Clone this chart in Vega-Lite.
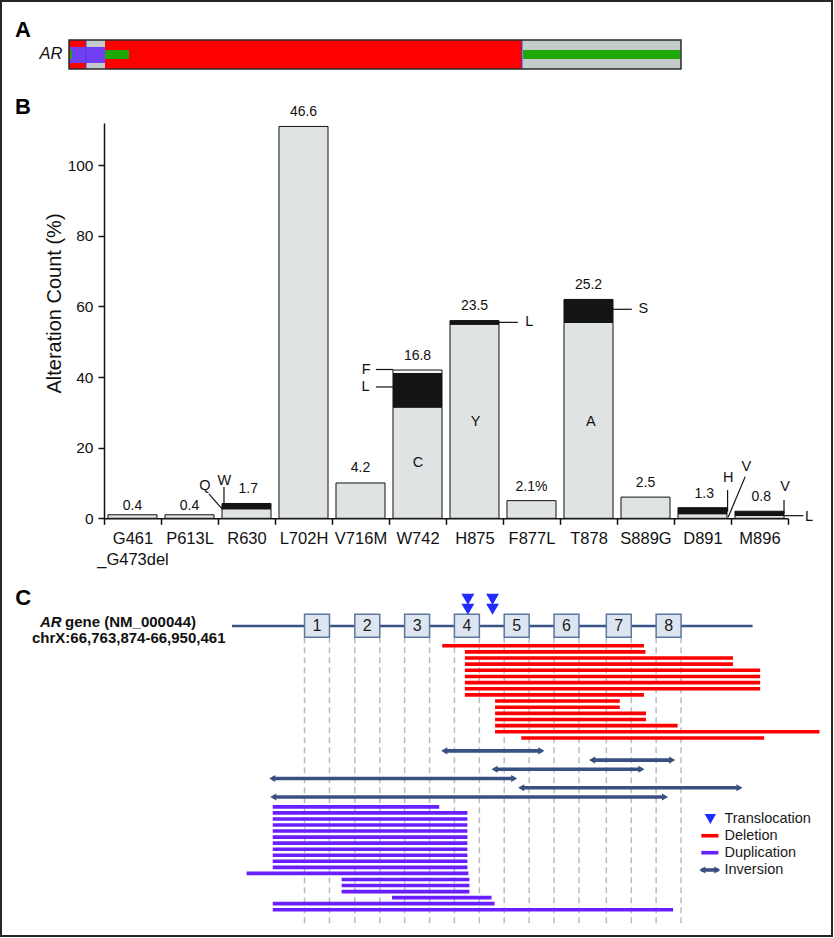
{
  "$schema": "https://vega.github.io/schema/vega-lite/v6.json",
  "width": 831,
  "height": 935,
  "autosize": {"type": "none"},
  "padding": {"left": 1, "top": 1, "right": 2, "bottom": 2},
  "background": "#ffffff",
  "config": {
    "view": {"stroke": "#262626", "strokeWidth": 2},
    "font": "Liberation Sans"
  },
  "datasets": {
    "ar_track": [
      {"alteration": "Amplification", "start": 0, "end": 17},
      {"alteration": "No alteration", "start": 17, "end": 36},
      {"alteration": "Amplification", "start": 36, "end": 453},
      {"alteration": "No alteration", "start": 453, "end": 612},
      {"alteration": "Structural variant", "start": 1, "end": 36},
      {"alteration": "Missense mutation", "start": 1, "end": 3},
      {"alteration": "Missense mutation", "start": 36, "end": 60},
      {"alteration": "Missense mutation", "start": 454, "end": 611}
    ],
    "mut_counts": [
      {"mutation": "G461_G473del", "residue": "", "part": "primary", "lo": 0, "hi": 1},
      {"mutation": "P613L", "residue": "", "part": "primary", "lo": 0, "hi": 1},
      {"mutation": "R630", "residue": "Q", "part": "primary", "lo": 0, "hi": 2.7},
      {"mutation": "R630", "residue": "W", "part": "secondary", "lo": 2.7, "hi": 4.2},
      {"mutation": "L702H", "residue": "", "part": "primary", "lo": 0, "hi": 111},
      {"mutation": "V716M", "residue": "", "part": "primary", "lo": 0, "hi": 10},
      {"mutation": "W742", "residue": "C", "part": "primary", "lo": 0, "hi": 31.5},
      {"mutation": "W742", "residue": "L", "part": "secondary", "lo": 31.5, "hi": 41},
      {"mutation": "W742", "residue": "F", "part": "tertiary", "lo": 41, "hi": 42},
      {"mutation": "H875", "residue": "Y", "part": "primary", "lo": 0, "hi": 55},
      {"mutation": "H875", "residue": "L", "part": "secondary", "lo": 55, "hi": 56},
      {"mutation": "F877L", "residue": "", "part": "primary", "lo": 0, "hi": 5},
      {"mutation": "T878", "residue": "A", "part": "primary", "lo": 0, "hi": 55.5},
      {"mutation": "T878", "residue": "S", "part": "secondary", "lo": 55.5, "hi": 62},
      {"mutation": "S889G", "residue": "", "part": "primary", "lo": 0, "hi": 6},
      {"mutation": "D891", "residue": "V", "part": "primary", "lo": 0, "hi": 1.3},
      {"mutation": "D891", "residue": "H", "part": "secondary", "lo": 1.3, "hi": 3},
      {"mutation": "M896", "residue": "L", "part": "primary", "lo": 0, "hi": 0.8},
      {"mutation": "M896", "residue": "V", "part": "secondary", "lo": 0.8, "hi": 2}
    ],
    "value_labels": [
      {"text": "0.4", "u": 0.5, "v": 3.5},
      {"text": "0.4", "u": 1.5, "v": 3.5},
      {"text": "1.7", "u": 2.53, "v": 8.2},
      {"text": "46.6", "u": 3.5, "v": 115.1},
      {"text": "4.2", "u": 4.5, "v": 14.2},
      {"text": "16.8", "u": 5.5, "v": 46},
      {"text": "23.5", "u": 6.5, "v": 60.1},
      {"text": "2.1%", "u": 7.5, "v": 8.8},
      {"text": "25.2", "u": 8.5, "v": 66.1},
      {"text": "2.5", "u": 9.5, "v": 10.1},
      {"text": "1.3", "u": 10.53, "v": 6.9},
      {"text": "0.8", "u": 11.53, "v": 5.9}
    ],
    "residue_labels": [
      {"text": "Q", "u": 1.77, "v": 9.15},
      {"text": "W", "u": 2.11, "v": 10.6},
      {"text": "F", "u": 4.6, "v": 42},
      {"text": "L", "u": 4.59, "v": 37.1},
      {"text": "C", "u": 5.51, "v": 15.7},
      {"text": "Y", "u": 6.52, "v": 27.4},
      {"text": "L", "u": 7.46, "v": 55.6},
      {"text": "A", "u": 8.54, "v": 27.4},
      {"text": "S", "u": 9.46, "v": 59.2},
      {"text": "H", "u": 10.95, "v": 11.5},
      {"text": "V", "u": 11.27, "v": 14.4},
      {"text": "V", "u": 11.95, "v": 8.8},
      {"text": "L", "u": 12.37, "v": 0.45}
    ],
    "leaders": [
      {"residue": "Q", "u1": 1.84, "v1": 6.9, "u2": 2.08, "v2": 2.55},
      {"residue": "W", "u1": 2.105, "v1": 8.9, "u2": 2.105, "v2": 4.05},
      {"residue": "F", "u1": 4.77, "v1": 42.15, "u2": 5.07, "v2": 42.15},
      {"residue": "L", "u1": 4.77, "v1": 37.2, "u2": 5.07, "v2": 37.2},
      {"residue": "L", "u1": 6.93, "v1": 55.5, "u2": 7.26, "v2": 55.5},
      {"residue": "S", "u1": 8.93, "v1": 59.2, "u2": 9.26, "v2": 59.2},
      {"residue": "H", "u1": 10.94, "v1": 8.0, "u2": 10.94, "v2": 1.9},
      {"residue": "V", "u1": 11.25, "v1": 11.8, "u2": 10.95, "v2": 0.3},
      {"residue": "V", "u1": 11.93, "v1": 5.2, "u2": 11.93, "v2": 1.4},
      {"residue": "L", "u1": 11.93, "v1": 0.74, "u2": 12.27, "v2": 0.74}
    ],
    "exons": [
      {"exon": "1", "start": 0.752, "end": 1.248, "mid": 1.0},
      {"exon": "2", "start": 1.752, "end": 2.248, "mid": 2.0},
      {"exon": "3", "start": 2.742, "end": 3.238, "mid": 2.99},
      {"exon": "4", "start": 3.732, "end": 4.228, "mid": 3.98},
      {"exon": "5", "start": 4.722, "end": 5.218, "mid": 4.97},
      {"exon": "6", "start": 5.712, "end": 6.208, "mid": 5.96},
      {"exon": "7", "start": 6.752, "end": 7.248, "mid": 7.0},
      {"exon": "8", "start": 7.742, "end": 8.238, "mid": 7.99}
    ],
    "gene": [{"gene": "AR", "start": -0.69, "end": 9.66, "track": -3.22}],
    "translocations": [
      {"event": "T1", "pos": 4.0, "track": -7.54},
      {"event": "T2", "pos": 4.0, "track": -5.92},
      {"event": "T3", "pos": 4.49, "track": -7.54},
      {"event": "T4", "pos": 4.49, "track": -5.92}
    ],
    "sv": [
      {"type": "Deletion", "start": 3.49, "end": 7.5, "track": 0},
      {"type": "Deletion", "start": 3.94, "end": 7.53, "track": 1},
      {"type": "Deletion", "start": 3.94, "end": 9.27, "track": 2},
      {"type": "Deletion", "start": 3.94, "end": 9.27, "track": 3},
      {"type": "Deletion", "start": 3.94, "end": 9.81, "track": 4},
      {"type": "Deletion", "start": 3.94, "end": 9.81, "track": 5},
      {"type": "Deletion", "start": 3.94, "end": 9.81, "track": 6},
      {"type": "Deletion", "start": 3.94, "end": 9.81, "track": 7},
      {"type": "Deletion", "start": 3.94, "end": 7.5, "track": 8},
      {"type": "Deletion", "start": 4.54, "end": 7.02, "track": 9},
      {"type": "Deletion", "start": 4.54, "end": 7.02, "track": 10},
      {"type": "Deletion", "start": 4.54, "end": 7.54, "track": 11},
      {"type": "Deletion", "start": 4.54, "end": 7.54, "track": 12},
      {"type": "Deletion", "start": 4.54, "end": 8.17, "track": 13},
      {"type": "Deletion", "start": 4.54, "end": 10.99, "track": 14},
      {"type": "Deletion", "start": 5.06, "end": 9.89, "track": 15},
      {"type": "Inversion", "start": 3.53, "end": 5.46, "track": 17.1},
      {"type": "Inversion", "start": 6.47, "end": 8.06, "track": 18.6},
      {"type": "Inversion", "start": 4.53, "end": 7.45, "track": 20.1},
      {"type": "Inversion", "start": 0.11, "end": 4.92, "track": 21.6},
      {"type": "Inversion", "start": 5.06, "end": 9.4, "track": 23.1},
      {"type": "Inversion", "start": 0.13, "end": 7.92, "track": 24.6},
      {"type": "Duplication", "start": 0.12, "end": 3.43, "track": 26.2},
      {"type": "Duplication", "start": 0.12, "end": 3.99, "track": 27.18},
      {"type": "Duplication", "start": 0.12, "end": 3.99, "track": 28.17},
      {"type": "Duplication", "start": 0.12, "end": 3.99, "track": 29.15},
      {"type": "Duplication", "start": 0.12, "end": 3.99, "track": 30.14},
      {"type": "Duplication", "start": 0.12, "end": 3.99, "track": 31.12},
      {"type": "Duplication", "start": 0.12, "end": 3.99, "track": 32.1},
      {"type": "Duplication", "start": 0.12, "end": 3.99, "track": 33.09},
      {"type": "Duplication", "start": 0.12, "end": 3.99, "track": 34.07},
      {"type": "Duplication", "start": 0.12, "end": 3.99, "track": 35.06},
      {"type": "Duplication", "start": 0.12, "end": 3.99, "track": 36.04},
      {"type": "Duplication", "start": -0.4, "end": 4.01, "track": 37.02},
      {"type": "Duplication", "start": 1.49, "end": 4.03, "track": 38.01},
      {"type": "Duplication", "start": 1.49, "end": 4.03, "track": 38.99},
      {"type": "Duplication", "start": 1.49, "end": 4.03, "track": 39.98},
      {"type": "Duplication", "start": 2.49, "end": 4.47, "track": 40.96},
      {"type": "Duplication", "start": 0.12, "end": 4.53, "track": 41.94},
      {"type": "Duplication", "start": 0.12, "end": 8.08, "track": 42.93}
    ],
    "legend_items": [
      {"type": "Translocation", "track": 28.18},
      {"type": "Deletion", "track": 30.9},
      {"type": "Duplication", "track": 33.66},
      {"type": "Inversion", "track": 36.47}
    ]
  },
  "resolve": {
    "scale": {"x": "independent", "y": "independent", "color": "independent", "shape": "independent", "strokeWidth": "independent"},
    "axis": {"x": "independent", "y": "independent"}
  },
  "layer": [
    {
      "data": {"name": "ar_track"},
      "transform": [{"filter": "datum.alteration == 'Amplification' || datum.alteration == 'No alteration'"}],
      "mark": {"type": "rect"},
      "encoding": {
        "x": {"field": "start", "type": "quantitative", "scale": {"type": "linear", "domain": [0, 612], "range": [68, 680], "nice": false, "zero": false}, "axis": null},
        "x2": {"field": "end"},
        "y": {"datum": 0, "type": "quantitative", "scale": {"type": "linear", "domain": [0, 1], "range": [68, 39], "nice": false, "zero": false}, "axis": null},
        "y2": {"datum": 1},
        "color": {"field": "alteration", "type": "nominal", "scale": {"domain": ["Amplification", "No alteration", "Structural variant", "Missense mutation"], "range": ["#ff0000", "#c3cbcb", "#7040f0", "#1ea808"]}, "legend": null}
      }
    },
    {
      "data": {"name": "ar_track"},
      "transform": [{"filter": "datum.alteration == 'Structural variant'"}],
      "mark": {"type": "rect"},
      "encoding": {
        "x": {"field": "start", "type": "quantitative", "scale": {"type": "linear", "domain": [0, 612], "range": [68, 680], "nice": false, "zero": false}, "axis": null},
        "x2": {"field": "end"},
        "y": {"datum": 0.21, "type": "quantitative", "scale": {"type": "linear", "domain": [0, 1], "range": [68, 39], "nice": false, "zero": false}, "axis": null},
        "y2": {"datum": 0.76},
        "color": {"field": "alteration", "type": "nominal", "scale": {"domain": ["Amplification", "No alteration", "Structural variant", "Missense mutation"], "range": ["#ff0000", "#c3cbcb", "#7040f0", "#1ea808"]}, "legend": null}
      }
    },
    {
      "data": {"name": "ar_track"},
      "transform": [{"filter": "datum.alteration == 'Missense mutation'"}],
      "mark": {"type": "rect"},
      "encoding": {
        "x": {"field": "start", "type": "quantitative", "scale": {"type": "linear", "domain": [0, 612], "range": [68, 680], "nice": false, "zero": false}, "axis": null},
        "x2": {"field": "end"},
        "y": {"datum": 0.345, "type": "quantitative", "scale": {"type": "linear", "domain": [0, 1], "range": [68, 39], "nice": false, "zero": false}, "axis": null},
        "y2": {"datum": 0.655},
        "color": {"field": "alteration", "type": "nominal", "scale": {"domain": ["Amplification", "No alteration", "Structural variant", "Missense mutation"], "range": ["#ff0000", "#c3cbcb", "#7040f0", "#1ea808"]}, "legend": null}
      }
    },
    {
      "data": {"values": [{"edge": 17}, {"edge": 453}]},
      "mark": {"type": "rule", "color": "#3a3aff", "strokeWidth": 1},
      "encoding": {
        "x": {"field": "edge", "type": "quantitative", "scale": {"type": "linear", "domain": [0, 612], "range": [68, 680], "nice": false, "zero": false}, "axis": null},
        "y": {"datum": 0, "type": "quantitative", "scale": {"type": "linear", "domain": [0, 1], "range": [68, 39], "nice": false, "zero": false}, "axis": null},
        "y2": {"datum": 1}
      }
    },
    {
      "data": {"values": [{"gene": "AR", "start": 0, "end": 612}]},
      "mark": {"type": "rect", "filled": false, "color": "#2a2a2a", "strokeWidth": 1.5},
      "encoding": {
        "x": {"field": "start", "type": "quantitative", "scale": {"type": "linear", "domain": [0, 612], "range": [68, 680], "nice": false, "zero": false}, "axis": null},
        "x2": {"field": "end"},
        "y": {"datum": 0, "type": "quantitative", "scale": {"type": "linear", "domain": [0, 1], "range": [68, 39], "nice": false, "zero": false}, "axis": null},
        "y2": {"datum": 1}
      }
    },
    {
      "data": {"values": [{"label": "A", "s": -54, "v": 1.114}]},
      "mark": {"type": "text", "fontSize": 22, "fontWeight": "bold", "align": "left", "baseline": "alphabetic", "color": "#000"},
      "encoding": {
        "x": {"field": "s", "type": "quantitative", "scale": {"type": "linear", "domain": [0, 612], "range": [68, 680], "nice": false, "zero": false}, "axis": null},
        "y": {"field": "v", "type": "quantitative", "scale": {"type": "linear", "domain": [0, 1], "range": [68, 39], "nice": false, "zero": false}, "axis": null},
        "text": {"field": "label"}
      }
    },
    {
      "data": {"values": [{"label": "AR", "s": -6.7, "v": 0.517}]},
      "mark": {"type": "text", "fontSize": 16.5, "fontStyle": "italic", "align": "right", "baseline": "middle", "color": "#111"},
      "encoding": {
        "x": {"field": "s", "type": "quantitative", "scale": {"type": "linear", "domain": [0, 612], "range": [68, 680], "nice": false, "zero": false}, "axis": null},
        "y": {"field": "v", "type": "quantitative", "scale": {"type": "linear", "domain": [0, 1], "range": [68, 39], "nice": false, "zero": false}, "axis": null},
        "text": {"field": "label"}
      }
    },
    {
      "data": {"name": "mut_counts"},
      "mark": {"type": "bar", "width": {"band": 0.86}, "stroke": "#111", "strokeWidth": 1},
      "encoding": {
        "x": {
          "field": "mutation", "type": "nominal", "sort": null,
          "scale": {"type": "band", "domain": ["G461_G473del", "P613L", "R630", "L702H", "V716M", "W742", "H875", "F877L", "T878", "S889G", "D891", "M896"], "range": [103, 787], "paddingInner": 0, "paddingOuter": 0},
          "axis": {"orient": "bottom", "offset": -417.7, "title": null, "domainColor": "#111", "domainWidth": 1.5, "tickColor": "#111", "tickWidth": 1.5, "tickSize": 6, "tickBand": "extent", "labelAngle": 0, "labelFontSize": 16.5, "labelColor": "#111", "labelPadding": 6, "labelLineHeight": 21.5, "labelExpr": "datum.label == 'G461_G473del' ? ['G461', '_G473del'] : datum.label", "grid": false}
        },
        "y": {
          "field": "lo", "type": "quantitative",
          "scale": {"type": "linear", "domain": [0, 112], "range": [517.3, 121.9], "nice": false, "zero": false},
          "axis": {"orient": "left", "offset": -103, "values": [0, 20, 40, 60, 80, 100], "title": "Alteration Count (%)", "titleFontSize": 20, "titleFontWeight": "normal", "titleColor": "#111", "titleX": -50, "titleY": 302, "titleBaseline": "middle", "titleAngle": 270, "labelFontSize": 15.5, "labelColor": "#111", "labelPadding": 5, "tickSize": 6, "tickColor": "#111", "tickWidth": 1.5, "domainColor": "#111", "domainWidth": 1.5, "grid": false}
        },
        "y2": {"field": "hi"},
        "color": {"field": "part", "type": "nominal", "scale": {"domain": ["primary", "secondary", "tertiary"], "range": ["#dfe3e3", "#141414", "#f7f7f7"]}, "legend": null}
      }
    },
    {
      "data": {"name": "leaders"},
      "mark": {"type": "rule", "color": "#111", "strokeWidth": 1.2},
      "encoding": {
        "x": {"field": "u1", "type": "quantitative", "scale": {"type": "linear", "domain": [0, 12], "range": [103, 787], "nice": false, "zero": false}, "axis": null},
        "x2": {"field": "u2"},
        "y": {"field": "v1", "type": "quantitative", "scale": {"type": "linear", "domain": [0, 112], "range": [517.3, 121.9], "nice": false, "zero": false}, "axis": null},
        "y2": {"field": "v2"}
      }
    },
    {
      "data": {"name": "value_labels"},
      "mark": {"type": "text", "fontSize": 14, "align": "center", "baseline": "middle", "color": "#111"},
      "encoding": {
        "x": {"field": "u", "type": "quantitative", "scale": {"type": "linear", "domain": [0, 12], "range": [103, 787], "nice": false, "zero": false}, "axis": null},
        "y": {"field": "v", "type": "quantitative", "scale": {"type": "linear", "domain": [0, 112], "range": [517.3, 121.9], "nice": false, "zero": false}, "axis": null},
        "text": {"field": "text"}
      }
    },
    {
      "data": {"name": "residue_labels"},
      "mark": {"type": "text", "fontSize": 14.5, "align": "center", "baseline": "middle", "color": "#111"},
      "encoding": {
        "x": {"field": "u", "type": "quantitative", "scale": {"type": "linear", "domain": [0, 12], "range": [103, 787], "nice": false, "zero": false}, "axis": null},
        "y": {"field": "v", "type": "quantitative", "scale": {"type": "linear", "domain": [0, 112], "range": [517.3, 121.9], "nice": false, "zero": false}, "axis": null},
        "text": {"field": "text"}
      }
    },
    {
      "data": {"values": [{"label": "B", "u": -1.561, "v": 114.4}]},
      "mark": {"type": "text", "fontSize": 22, "fontWeight": "bold", "align": "left", "baseline": "alphabetic", "color": "#000"},
      "encoding": {
        "x": {"field": "u", "type": "quantitative", "scale": {"type": "linear", "domain": [0, 12], "range": [103, 787], "nice": false, "zero": false}, "axis": null},
        "y": {"field": "v", "type": "quantitative", "scale": {"type": "linear", "domain": [0, 112], "range": [517.3, 121.9], "nice": false, "zero": false}, "axis": null},
        "text": {"field": "label"}
      }
    },
    {
      "data": {"name": "exons"},
      "transform": [{"fold": ["start", "end"], "as": ["side", "edge"]}],
      "mark": {"type": "rule", "color": "#b4bebe", "strokeWidth": 1.5, "strokeDash": [6, 4]},
      "encoding": {
        "x": {"field": "edge", "type": "quantitative", "scale": {"type": "linear", "domain": [0, 10], "range": [265.7, 768.7], "nice": false, "zero": false}, "axis": null},
        "y": {"datum": -1.37, "type": "quantitative", "scale": {"type": "linear", "domain": [-8, 46], "range": [595.5, 927.6], "nice": false, "zero": false}, "axis": null},
        "y2": {"datum": 45.4}
      }
    },
    {
      "data": {"name": "gene"},
      "mark": {"type": "rule", "color": "#3b5487", "strokeWidth": 2.5},
      "encoding": {
        "x": {"field": "start", "type": "quantitative", "scale": {"type": "linear", "domain": [0, 10], "range": [265.7, 768.7], "nice": false, "zero": false}, "axis": null},
        "x2": {"field": "end"},
        "y": {"field": "track", "type": "quantitative", "scale": {"type": "linear", "domain": [-8, 46], "range": [595.5, 927.6], "nice": false, "zero": false}, "axis": null}
      }
    },
    {
      "data": {"name": "exons"},
      "mark": {"type": "rect", "fill": "#dde6f0", "stroke": "#5c76a0", "strokeWidth": 1.5},
      "encoding": {
        "x": {"field": "start", "type": "quantitative", "scale": {"type": "linear", "domain": [0, 10], "range": [265.7, 768.7], "nice": false, "zero": false}, "axis": null},
        "x2": {"field": "end"},
        "y": {"datum": -5.11, "type": "quantitative", "scale": {"type": "linear", "domain": [-8, 46], "range": [595.5, 927.6], "nice": false, "zero": false}, "axis": null},
        "y2": {"datum": -1.37}
      }
    },
    {
      "data": {"name": "exons"},
      "mark": {"type": "text", "fontSize": 16, "align": "center", "baseline": "middle", "color": "#1a1a1a"},
      "encoding": {
        "x": {"field": "mid", "type": "quantitative", "scale": {"type": "linear", "domain": [0, 10], "range": [265.7, 768.7], "nice": false, "zero": false}, "axis": null},
        "y": {"datum": -3.24, "type": "quantitative", "scale": {"type": "linear", "domain": [-8, 46], "range": [595.5, 927.6], "nice": false, "zero": false}, "axis": null},
        "text": {"field": "exon"}
      }
    },
    {
      "data": {"name": "translocations"},
      "mark": {"type": "point", "shape": "triangle-down", "filled": true, "size": 165, "color": "#1f2cff", "opacity": 1},
      "encoding": {
        "x": {"field": "pos", "type": "quantitative", "scale": {"type": "linear", "domain": [0, 10], "range": [265.7, 768.7], "nice": false, "zero": false}, "axis": null},
        "y": {"field": "track", "type": "quantitative", "scale": {"type": "linear", "domain": [-8, 46], "range": [595.5, 927.6], "nice": false, "zero": false}, "axis": null}
      }
    },
    {
      "data": {"name": "sv"},
      "mark": {"type": "rule"},
      "encoding": {
        "x": {"field": "start", "type": "quantitative", "scale": {"type": "linear", "domain": [0, 10], "range": [265.7, 768.7], "nice": false, "zero": false}, "axis": null},
        "x2": {"field": "end"},
        "y": {"field": "track", "type": "quantitative", "scale": {"type": "linear", "domain": [-8, 46], "range": [595.5, 927.6], "nice": false, "zero": false}, "axis": null},
        "color": {"field": "type", "type": "nominal", "scale": {"domain": ["Deletion", "Duplication", "Inversion"], "range": ["#ff0000", "#6a1fff", "#3a5080"]}, "legend": null},
        "strokeWidth": {"field": "type", "type": "nominal", "scale": {"domain": ["Deletion", "Duplication", "Inversion"], "range": [3.6, 3.6, 2.8]}, "legend": null}
      }
    },
    {
      "data": {"name": "sv"},
      "transform": [{"filter": "datum.type == 'Inversion'"}, {"fold": ["start", "end"], "as": ["side", "pos"]}],
      "mark": {"type": "point", "filled": true, "size": 50, "color": "#3a5080", "opacity": 1},
      "encoding": {
        "x": {"field": "pos", "type": "quantitative", "scale": {"type": "linear", "domain": [0, 10], "range": [265.7, 768.7], "nice": false, "zero": false}, "axis": null},
        "y": {"field": "track", "type": "quantitative", "scale": {"type": "linear", "domain": [-8, 46], "range": [595.5, 927.6], "nice": false, "zero": false}, "axis": null},
        "shape": {"field": "side", "type": "nominal", "scale": {"domain": ["start", "end"], "range": ["triangle-left", "triangle-right"]}, "legend": null}
      }
    },
    {
      "data": {"name": "legend_items"},
      "transform": [{"filter": "datum.type != 'Translocation'"}],
      "mark": {"type": "rule"},
      "encoding": {
        "x": {"datum": 8.64, "type": "quantitative", "scale": {"type": "linear", "domain": [0, 10], "range": [265.7, 768.7], "nice": false, "zero": false}, "axis": null},
        "x2": {"datum": 8.98},
        "y": {"field": "track", "type": "quantitative", "scale": {"type": "linear", "domain": [-8, 46], "range": [595.5, 927.6], "nice": false, "zero": false}, "axis": null},
        "color": {"field": "type", "type": "nominal", "scale": {"domain": ["Deletion", "Duplication", "Inversion"], "range": ["#ff0000", "#6a1fff", "#3a5080"]}, "legend": null},
        "strokeWidth": {"field": "type", "type": "nominal", "scale": {"domain": ["Deletion", "Duplication", "Inversion"], "range": [3.6, 3.6, 2.8]}, "legend": null}
      }
    },
    {
      "data": {"name": "legend_items"},
      "transform": [{"filter": "datum.type == 'Translocation'"}],
      "mark": {"type": "point", "shape": "triangle-down", "filled": true, "size": 130, "color": "#1f2cff", "opacity": 1},
      "encoding": {
        "x": {"datum": 8.82, "type": "quantitative", "scale": {"type": "linear", "domain": [0, 10], "range": [265.7, 768.7], "nice": false, "zero": false}, "axis": null},
        "y": {"field": "track", "type": "quantitative", "scale": {"type": "linear", "domain": [-8, 46], "range": [595.5, 927.6], "nice": false, "zero": false}, "axis": null}
      }
    },
    {
      "data": {"name": "legend_items"},
      "transform": [{"filter": "datum.type == 'Inversion'"}],
      "mark": {"type": "point", "shape": "triangle-left", "filled": true, "size": 50, "color": "#3a5080", "opacity": 1},
      "encoding": {
        "x": {"datum": 8.66, "type": "quantitative", "scale": {"type": "linear", "domain": [0, 10], "range": [265.7, 768.7], "nice": false, "zero": false}, "axis": null},
        "y": {"field": "track", "type": "quantitative", "scale": {"type": "linear", "domain": [-8, 46], "range": [595.5, 927.6], "nice": false, "zero": false}, "axis": null}
      }
    },
    {
      "data": {"name": "legend_items"},
      "transform": [{"filter": "datum.type == 'Inversion'"}],
      "mark": {"type": "point", "shape": "triangle-right", "filled": true, "size": 50, "color": "#3a5080", "opacity": 1},
      "encoding": {
        "x": {"datum": 8.96, "type": "quantitative", "scale": {"type": "linear", "domain": [0, 10], "range": [265.7, 768.7], "nice": false, "zero": false}, "axis": null},
        "y": {"field": "track", "type": "quantitative", "scale": {"type": "linear", "domain": [-8, 46], "range": [595.5, 927.6], "nice": false, "zero": false}, "axis": null}
      }
    },
    {
      "data": {"name": "legend_items"},
      "mark": {"type": "text", "fontSize": 14.5, "align": "left", "baseline": "middle", "color": "#1a1a1a"},
      "encoding": {
        "x": {"datum": 9.1, "type": "quantitative", "scale": {"type": "linear", "domain": [0, 10], "range": [265.7, 768.7], "nice": false, "zero": false}, "axis": null},
        "y": {"field": "track", "type": "quantitative", "scale": {"type": "linear", "domain": [-8, 46], "range": [595.5, 927.6], "nice": false, "zero": false}, "axis": null},
        "text": {"field": "type"}
      }
    },
    {
      "data": {"values": [{"label": "C", "u": -5.0, "r": -6.54}]},
      "mark": {"type": "text", "fontSize": 22, "fontWeight": "bold", "align": "left", "baseline": "alphabetic", "color": "#000"},
      "encoding": {
        "x": {"field": "u", "type": "quantitative", "scale": {"type": "linear", "domain": [0, 10], "range": [265.7, 768.7], "nice": false, "zero": false}, "axis": null},
        "y": {"field": "r", "type": "quantitative", "scale": {"type": "linear", "domain": [-8, 46], "range": [595.5, 927.6], "nice": false, "zero": false}, "axis": null},
        "text": {"field": "label"}
      }
    },
    {
      "data": {"values": [{"label": "AR", "u": -4.507, "r": -3.04}]},
      "mark": {"type": "text", "fontSize": 15, "fontWeight": "bold", "fontStyle": "italic", "align": "left", "baseline": "alphabetic", "color": "#111"},
      "encoding": {
        "x": {"field": "u", "type": "quantitative", "scale": {"type": "linear", "domain": [0, 10], "range": [265.7, 768.7], "nice": false, "zero": false}, "axis": null},
        "y": {"field": "r", "type": "quantitative", "scale": {"type": "linear", "domain": [-8, 46], "range": [595.5, 927.6], "nice": false, "zero": false}, "axis": null},
        "text": {"field": "label"}
      }
    },
    {
      "data": {"values": [{"label": "gene (NM_000044)", "u": -1.406, "r": -3.04}]},
      "mark": {"type": "text", "fontSize": 15, "fontWeight": "bold", "align": "right", "baseline": "alphabetic", "color": "#111"},
      "encoding": {
        "x": {"field": "u", "type": "quantitative", "scale": {"type": "linear", "domain": [0, 10], "range": [265.7, 768.7], "nice": false, "zero": false}, "axis": null},
        "y": {"field": "r", "type": "quantitative", "scale": {"type": "linear", "domain": [-8, 46], "range": [595.5, 927.6], "nice": false, "zero": false}, "axis": null},
        "text": {"field": "label"}
      }
    },
    {
      "data": {"values": [{"label": "chrX:66,763,874-66,950,461", "u": -4.666, "r": -0.52}]},
      "mark": {"type": "text", "fontSize": 15, "fontWeight": "bold", "align": "left", "baseline": "alphabetic", "color": "#111"},
      "encoding": {
        "x": {"field": "u", "type": "quantitative", "scale": {"type": "linear", "domain": [0, 10], "range": [265.7, 768.7], "nice": false, "zero": false}, "axis": null},
        "y": {"field": "r", "type": "quantitative", "scale": {"type": "linear", "domain": [-8, 46], "range": [595.5, 927.6], "nice": false, "zero": false}, "axis": null},
        "text": {"field": "label"}
      }
    }
  ]
}
